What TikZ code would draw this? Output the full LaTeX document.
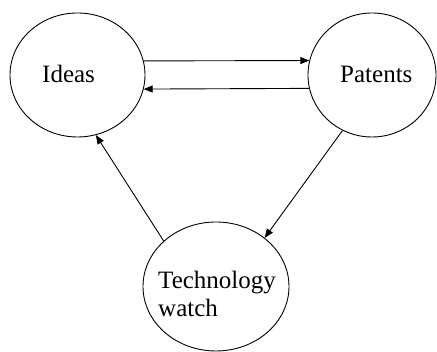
\documentclass[tikz,border=0pt]{standalone}
\usepackage{fontspec}
\setmainfont{Liberation Serif}
\usetikzlibrary{shapes.geometric,arrows.meta}
\begin{document}
\begin{tikzpicture}[x=1pt,y=1pt,
  bubble/.style={ellipse,draw,line width=0.9pt,inner sep=0pt},
  lbl/.style={inner sep=0pt,font=\fontsize{25}{28}\selectfont,align=left},
  link/.style={line width=0.9pt,-{Triangle[length=9pt,width=7pt]}}]
\useasboundingbox (0,0) rectangle (437,352);
% the three topics
\node[bubble,minimum width=135pt,minimum height=124pt] (ideas) at (77.5,277) {};
\node[bubble,minimum width=128pt,minimum height=124pt] (patents) at (372,277) {};
\node[bubble,minimum width=146pt,minimum height=129pt] (watch) at (216,65.5) {};
% their labels
\node[lbl,anchor=base west] (tideas) at (42,269) {Ideas};
\node[lbl,anchor=base west] (tpatents) at (340,269) {Patents};
\node[lbl,anchor=north west] (twatch) at (158,81) {Technology\\watch};
% flows between them
\draw[link] (ideas.12.9) -- (patents.167.3);
\draw[link] (patents.192.7) -- (ideas.-12.3);
\draw[link] (watch.139.1) -- (ideas.287.2);
\draw[link] (patents.242.6) -- (watch.45.6);
\end{tikzpicture}
\end{document}
